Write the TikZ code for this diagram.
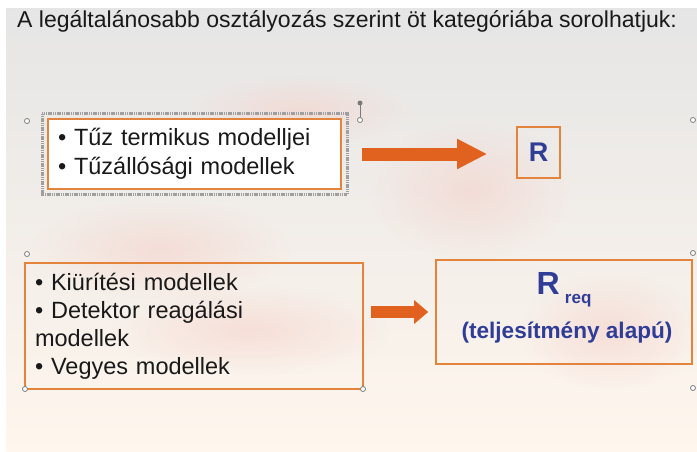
\documentclass[tikz,border=0pt]{standalone}
\usepackage{fontspec}
\setmainfont{Liberation Sans}
\usepackage{xcolor}
\usepackage{tikz}
\usetikzlibrary{positioning}
\usetikzlibrary{arrows.meta}
\usetikzlibrary{fadings}
\definecolor{slideorange}{HTML}{E4843C}
\definecolor{arroworange}{HTML}{E0621E}
\definecolor{slideblue}{HTML}{2F3D96}
\definecolor{handlegray}{HTML}{7A7A7A}
\definecolor{flame}{HTML}{F5D2CB}
\tikzfading[name=fade out, inner color=transparent!0, outer color=transparent!100]
\tikzstyle{listbox}=[rectangle,draw=slideorange,line width=2pt,align=left,inner ysep=0pt,inner xsep=10pt,text=black!90,font={\fontsize{23.5}{29}\selectfont}]
\tikzstyle{resultbox}=[rectangle,draw=slideorange,line width=1.6pt,inner sep=0pt,text=slideblue,font=\bfseries]
\tikzstyle{bigarrow}=[draw=arroworange]
\tikzstyle{handle}=[circle,draw=handlegray,fill=white,line width=0.8pt,minimum size=5pt,inner sep=0pt]
\tikzstyle{selframe}=[draw=gray!75,line width=3pt,dash pattern=on 1.2pt off 0.6pt]
\tikzset{bluetext/.style={text=slideblue,font=\bfseries,inner sep=0pt}}

\begin{document}
\begin{tikzpicture}[x=1pt,y=-1pt]
    \useasboundingbox (0,0) rectangle (697,452);
    % slide background with the faint flames
    \fill[white] (0,0) rectangle (697,452);
    \shade[top color=black!10, middle color=flame!70, bottom color=orange!7] (6,9) rectangle (697,452);
    \foreach \pos/\rx/\ry in {{(160,250)/130/50}, {(300,110)/110/35},
    {(470,190)/100/70}, {(250,330)/140/45}, {(610,330)/90/60}}
        \fill[flame, opacity=0.6, path fading=fade out] \pos ellipse ({\rx} and {\ry});

    \node[anchor=base west, inner sep=0pt, font={\fontsize{23}{27}\selectfont}, text=black!90] (title) at (17,28)
        {A legáltalánosabb osztályozás szerint öt kategóriába sorolhatjuk:};

    % First the boxes on the left
    \node[listbox, fill=white, text width=273pt, minimum height=70pt] (thermal) at (194.5,154)
        {• Tűz termikus modelljei\\• Tűzállósági modellek};
    \draw[selframe] ([shift={(-5,-4)}]thermal.north west) rectangle ([shift={(5,4)}]thermal.south east);
    \node[listbox, text width=318pt, minimum height=126pt, font={\fontsize{23.5}{28}\selectfont}] (evac) at (194,326)
        {• Kiürítési modellek\\• Detektor reagálási\\modellek\\• Vegyes modellek};

    % then the results on the right
    \node[resultbox, minimum width=43pt, minimum height=51pt, font={\bfseries\fontsize{27}{27}\selectfont}] (R) at (538.5,152.5) {R};
    \node[resultbox, minimum width=256pt, minimum height=104pt] (Rreq) at (564,312) {};
    \node[bluetext, anchor=base, font={\bfseries\fontsize{32}{32}\selectfont}] (reqsym) at (564,294)
        {R\,\raisebox{-9pt}{\fontsize{17}{17}\selectfont req}};
    \node[bluetext, anchor=base, font={\bfseries\fontsize{22.6}{26}\selectfont}] (reqnote) at (567,338)
        {(teljesítmény alapú)};

    % Connect boxes with the block arrows
    \draw[bigarrow, line width=13pt, -{Triangle[width=28pt,length=30pt]}, shorten <=20pt, shorten >=29pt]
        (thermal.east) -- (thermal.east -| R.west);
    \draw[bigarrow, line width=12pt, -{Triangle[width=23pt,length=14pt]}, shorten <=7pt, shorten >=7pt]
        (evac.east |- Rreq.west) -- (Rreq.west);

    % selection handles left on the slide
    \draw[handlegray, line width=1pt] (360,103) -- (360,118);
    \fill[handlegray] (360,103) circle (2.5pt);
    \foreach \pos/\name in {{(360,120)/rot}, {(27,121)/ha}, {(693,120)/hb},
    {(27,254)/hc}, {(693,253)/hd}, {(25,389)/he}, {(363,389)/hf}, {(693,388)/hg}}
        \node[handle] (\name) at \pos {};
\end{tikzpicture}
\end{document}
